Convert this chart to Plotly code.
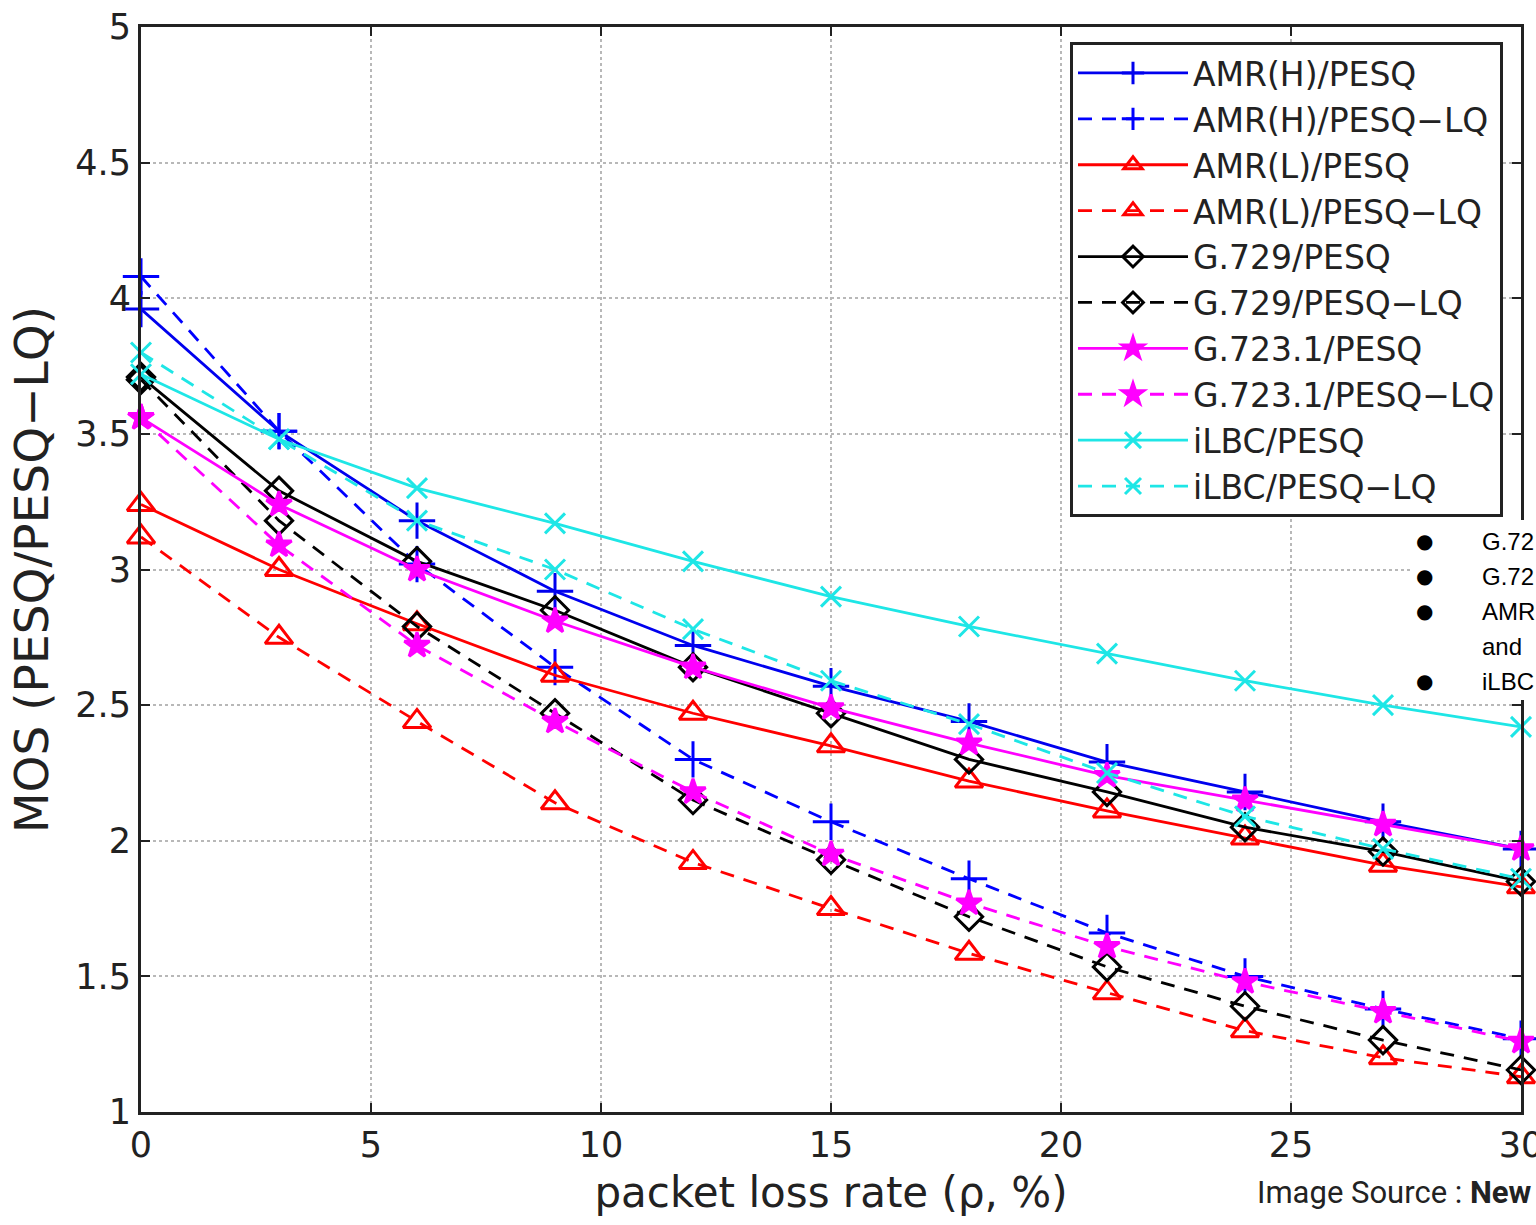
import plotly.graph_objects as go

loss_rate = [0, 3, 6, 9, 12, 15, 18, 21, 24, 27, 30]

amr_h_pesq    = [3.96, 3.51, 3.18, 2.92, 2.72, 2.57, 2.44, 2.29, 2.18, 2.07, 1.97]
amr_h_pesq_lq = [4.08, 3.51, 3.02, 2.64, 2.30, 2.07, 1.86, 1.66, 1.50, 1.38, 1.27]
amr_l_pesq    = [3.24, 3.00, 2.80, 2.61, 2.47, 2.35, 2.22, 2.11, 2.01, 1.91, 1.83]
amr_l_pesq_lq = [3.12, 2.75, 2.44, 2.14, 1.92, 1.75, 1.585, 1.44, 1.30, 1.20, 1.13]
g729_pesq     = [3.71, 3.29, 3.03, 2.85, 2.64, 2.47, 2.30, 2.18, 2.05, 1.96, 1.85]
g729_pesq_lq  = [3.70, 3.18, 2.79, 2.47, 2.15, 1.93, 1.72, 1.535, 1.39, 1.265, 1.155]
g7231_pesq    = [3.56, 3.24, 3.00, 2.81, 2.64, 2.49, 2.36, 2.24, 2.15, 2.06, 1.97]
g7231_pesq_lq = [3.56, 3.09, 2.72, 2.44, 2.18, 1.95, 1.77, 1.61, 1.48, 1.37, 1.26]
ilbc_pesq     = [3.72, 3.48, 3.30, 3.17, 3.03, 2.90, 2.79, 2.69, 2.59, 2.50, 2.42]
ilbc_pesq_lq  = [3.80, 3.48, 3.18, 3.00, 2.78, 2.59, 2.43, 2.25, 2.09, 1.97, 1.86]

x_ticks = [0, 5, 10, 15, 20, 25, 30]
y_ticks = [1, 1.5, 2, 2.5, 3, 3.5, 4, 4.5, 5]
y_tick_labels = ["1", "1.5", "2", "2.5", "3", "3.5", "4", "4.5", "5"]

bullet_lines = ["G.72", "G.72", "AMR", "and", "iLBC"]

DASH = "14px,10px"
series = [
    ("AMR(H)/PESQ",     amr_h_pesq,    "#0000ee", "solid", "cross-thin",       26),
    ("AMR(H)/PESQ−LQ",  amr_h_pesq_lq, "#0000ff", DASH,    "cross-thin",       26),
    ("AMR(L)/PESQ",     amr_l_pesq,    "#ff0000", "solid", "triangle-up-open", 24),
    ("AMR(L)/PESQ−LQ",  amr_l_pesq_lq, "#ff0000", DASH,    "triangle-up-open", 24),
    ("G.729/PESQ",      g729_pesq,     "#000000", "solid", "diamond-open",     21),
    ("G.729/PESQ−LQ",   g729_pesq_lq,  "#000000", DASH,    "diamond-open",     21),
    ("G.723.1/PESQ",    g7231_pesq,    "#ff00ff", "solid", "star",             19),
    ("G.723.1/PESQ−LQ", g7231_pesq_lq, "#ff00ff", DASH,    "star",             19),
    ("iLBC/PESQ",       ilbc_pesq,     "#1ee6e6", "solid", "x-thin",           20),
    ("iLBC/PESQ−LQ",    ilbc_pesq_lq,  "#1ee6e6", DASH,    "x-thin",           20),
]

fig = go.Figure()
for name, vals, color, dash, sym, size in series:
    fig.add_trace(go.Scatter(
        x=loss_rate, y=vals, name=name, mode="lines+markers",
        line=dict(color=color, width=2.8, dash=dash),
        marker=dict(symbol=sym, size=size, color=color,
                    line=dict(color=color, width=3)),
        cliponaxis=False,
    ))

axis_font = dict(family="DejaVu Sans", size=35, color="#222")

fig.update_layout(
    width=1536, height=1225,
    margin=dict(l=141, r=15, t=27, b=113, autoexpand=False),
    paper_bgcolor="white", plot_bgcolor="white",
    showlegend=True,
    legend=dict(
        x=(1503 - 141) / 1380, y=1 - (42 - 27) / 1085,
        xanchor="right", yanchor="top",
        bgcolor="white", bordercolor="#222", borderwidth=3,
        font=dict(family="DejaVu Sans", size=33, color="#222"),
        itemwidth=110, tracegroupgap=0,
    ),
    xaxis=dict(
        range=[0, 30], tickvals=x_ticks, automargin=False,
        ticks="inside", ticklen=9, tickwidth=2, tickcolor="#222",
        showline=True, linecolor="#222", linewidth=3, mirror="ticks",
        showgrid=True, gridcolor="#b8b8b8", gridwidth=1.5, griddash="dot",
        zeroline=False, tickfont=axis_font, ticklabeloverflow="allow",
        title=dict(text="packet loss rate (ρ, %)", standoff=14,
                   font=dict(family="DejaVu Sans", size=42, color="#222")),
    ),
    yaxis=dict(
        range=[1, 5], tickvals=y_ticks, ticktext=y_tick_labels, automargin=False,
        ticks="inside", ticklen=9, tickwidth=2, tickcolor="#222",
        showline=True, linecolor="#222", linewidth=3, mirror="ticks",
        showgrid=True, gridcolor="#b8b8b8", gridwidth=1.5, griddash="dot",
        zeroline=False, tickfont=axis_font,
        title=dict(text="MOS (PESQ/PESQ−LQ)", standoff=12,
                   font=dict(family="DejaVu Sans", size=47, color="#222")),
    ),
)

# overlay box with cut-off bullet list (page content on top of the chart)
fig.add_shape(type="rect", xref="paper", yref="paper",
              x0=(1410 - 141) / 1380, x1=(1545 - 141) / 1380,
              y0=1 - (700 - 27) / 1085, y1=1 - (520 - 27) / 1085,
              fillcolor="white", line=dict(width=0), layer="above")

row_y = [541, 576, 611, 646, 681]
for txt, py in zip(bullet_lines, row_y):
    yp = 1 - (py - 27) / 1085
    if txt != "and":
        fig.add_annotation(xref="paper", yref="paper", x=(1424 - 141) / 1380, y=yp,
                           text="●", showarrow=False, xanchor="center", yanchor="middle",
                           font=dict(family="DejaVu Sans", size=20, color="black"))
    fig.add_annotation(xref="paper", yref="paper", x=(1480 - 141) / 1380, y=yp,
                       text=txt, showarrow=False, xanchor="left", yanchor="middle",
                       font=dict(family="Liberation Sans", size=24, color="black"))

fig.add_annotation(xref="paper", yref="paper", x=(1255 - 141) / 1380,
                   y=1 - (1192 - 27) / 1085,
                   text="Image Source : <b>New</b>", showarrow=False,
                   xanchor="left", yanchor="middle",
                   font=dict(family="Roboto", size=31, color="#222"))

fig.write_html("out.html")
